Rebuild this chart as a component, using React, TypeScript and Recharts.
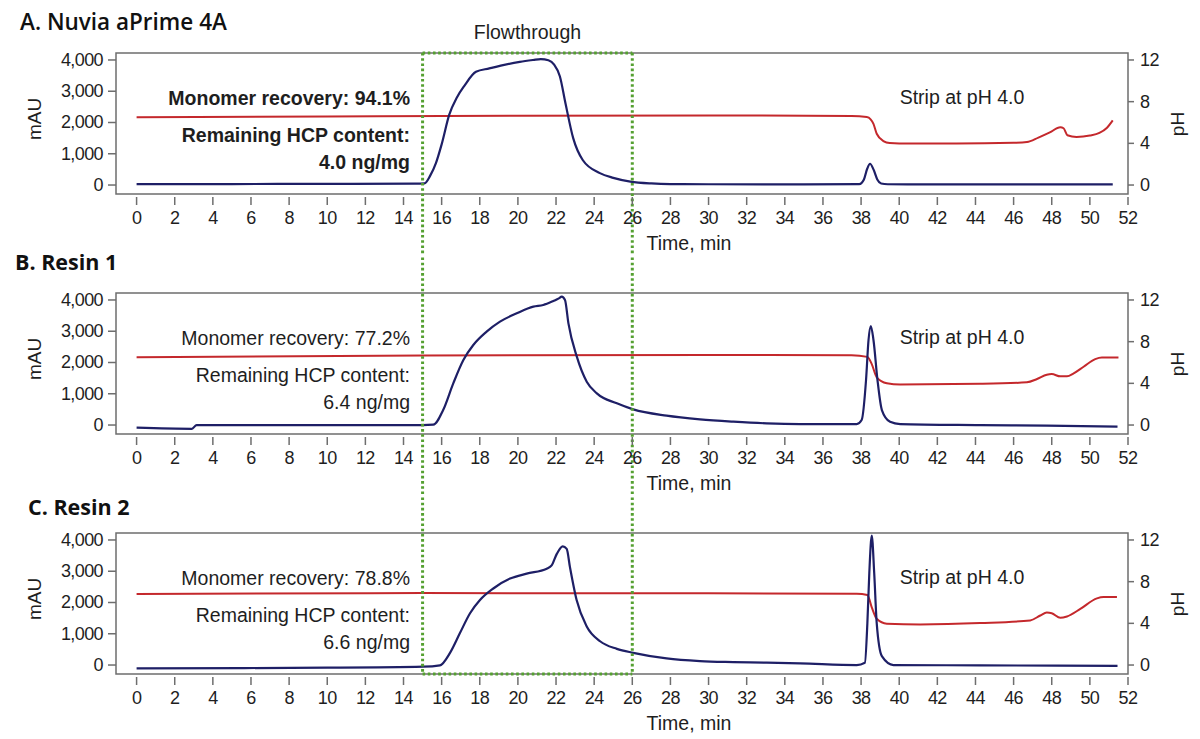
import React from 'react';
import { ComposedChart, Line, XAxis, YAxis, ReferenceArea, ReferenceLine } from 'recharts';

// axes
const timeTicks = [0, 2, 4, 6, 8, 10, 12, 14, 16, 18, 20, 22, 24, 26, 28, 30, 32, 34, 36, 38, 40, 42, 44, 46, 48, 50, 52];
const mauTicks = [0, 1000, 2000, 3000, 4000];
const phTicks = [0, 4, 8, 12];

const flowStart = 15;
const flowEnd = 26;

// A. Nuvia aPrime 4A
const aUvTime = [0, 5, 10, 14.6, 15.1, 15.4, 15.7, 16.0, 16.4, 16.8, 17.2, 17.8, 18.5, 19.1, 20.1, 20.8, 21.2, 21.6, 21.9, 22.2, 22.5, 22.9, 23.4, 24.3, 25.0, 25.9, 27.0, 28, 30, 35, 37.9, 38.15, 38.32, 38.47, 38.65, 38.85, 39.05, 39.4, 42, 46, 51.2];
const aUv = [30, 32, 38, 48, 55, 300, 700, 1300, 2250, 2800, 3180, 3620, 3730, 3820, 3940, 4000, 4030, 3990, 3850, 3480, 2600, 1500, 800, 380, 230, 110, 50, 30, 25, 20, 30, 180, 520, 680, 500, 180, 50, 25, 20, 20, 20];
const aPhTime = [0, 10, 20, 30, 37.5, 38.3, 38.5, 38.65, 38.82, 39.17, 39.5, 40.5, 43, 46, 46.7, 47.3, 47.9, 48.45, 48.62, 48.82, 49.3, 50.0, 50.5, 50.9, 51.2];
const aPh = [6.5, 6.58, 6.65, 6.67, 6.62, 6.52, 6.3, 5.87, 4.92, 4.22, 4.03, 3.98, 3.98, 4.05, 4.12, 4.55, 5.05, 5.55, 5.45, 4.78, 4.62, 4.75, 5.0, 5.5, 6.2];

// B. Resin 1
const bUvTime = [0, 2.9, 3.15, 8, 15.0, 15.56, 16.08, 16.61, 17.14, 17.66, 18.36, 19.06, 19.94, 20.81, 21.33, 21.86, 22.15, 22.3, 22.47, 22.65, 23.09, 23.61, 24.14, 25.19, 26.05, 27.8, 29.55, 31.3, 33.05, 34.8, 37.77, 38.03, 38.26, 38.39, 38.51, 38.65, 38.86, 39.09, 39.52, 40.05, 44.25, 47.74, 51.45];
const bUv = [-85, -120, 0, 0, 0, 10, 480, 1333, 2080, 2560, 2987, 3307, 3573, 3787, 3840, 3968, 4050, 4107, 4000, 3253, 2187, 1387, 1013, 693, 500, 299, 181, 107, 53, 32, 32, 160, 1440, 2720, 3168, 2720, 1440, 480, 107, 32, 0, -20, -53];
const bPhTime = [0, 15, 30, 37.5, 38.33, 38.56, 38.82, 39.35, 40.05, 44.25, 46.7, 47.23, 47.74, 48.0, 48.45, 48.8, 49.15, 49.67, 50.28, 50.63, 51.5];
const bPh = [6.5, 6.67, 6.73, 6.7, 6.54, 5.84, 4.58, 4.01, 3.88, 3.95, 4.1, 4.42, 4.83, 4.89, 4.67, 4.67, 4.96, 5.59, 6.32, 6.47, 6.47];

// C. Resin 2
const cUvTime = [0, 10, 15.04, 15.91, 16.44, 16.96, 17.49, 18.01, 18.71, 19.59, 20.46, 21.51, 21.77, 22.04, 22.35, 22.56, 22.73, 23.08, 23.61, 24.31, 25.19, 26.05, 27.8, 29.55, 31.3, 33.05, 34.8, 37.77, 38.2, 38.33, 38.43, 38.56, 38.69, 38.82, 39.09, 39.7, 44.25, 51.45];
const cUv = [-105, -85, -53, -10, 390, 1023, 1656, 2078, 2448, 2764, 2922, 3080, 3186, 3555, 3798, 3714, 3133, 2078, 1234, 760, 517, 390, 211, 127, 95, 74, 53, 0, 74, 1340, 2922, 4136, 2922, 1340, 285, 0, -10, -30];
const cPhTime = [0, 15, 30, 37.77, 38.33, 38.56, 38.82, 39.35, 41.1, 44.25, 46.87, 47.4, 47.74, 48.0, 48.45, 48.8, 49.5, 50.37, 50.72, 51.42];
const cPh = [6.81, 6.9, 6.88, 6.84, 6.72, 5.53, 4.44, 3.97, 3.9, 4.03, 4.28, 4.75, 5.03, 4.97, 4.53, 4.66, 5.38, 6.4, 6.53, 6.53];

const X_DOMAIN: [number, number] = [-1.08, 52];
const MAU_DOMAIN: [number, number] = [-287, 4223];
const PH_DOMAIN: [number, number] = [(MAU_DOMAIN[0] * 12) / 4000, (MAU_DOMAIN[1] * 12) / 4000];

const W = 1200;
const LEFT_W = 116;
const RIGHT_W = 72;
const PLOT_W = W - LEFT_W - RIGHT_W;
const xPx = (t: number) => LEFT_W + ((t - X_DOMAIN[0]) / (X_DOMAIN[1] - X_DOMAIN[0])) * PLOT_W;

const BLUE = '#1e1f66';
const RED = '#c4282c';
const AXIS = '#6e6e6e';
const GREEN = '#55a031';
const TEXT = '#1e1e1e';
const SANS = '"Liberation Sans", Arial, Helvetica, sans-serif';

const zip = (ts: number[], vs: number[]) => ts.map((t, i) => ({ t, v: vs[i] }));

function TimeTick({ x, y, payload }: any) {
  return (
    <g>
      <line x1={x} x2={x} y1={y + 3} y2={y + 11} stroke={AXIS} strokeWidth={1.5} />
      <text x={x} y={y + 24} textAnchor="middle" dominantBaseline="central" fontFamily={SANS} fontSize={18} letterSpacing={-0.6} fill={TEXT}>
        {payload.value}
      </text>
    </g>
  );
}

function MauTick({ x, y, payload }: any) {
  return (
    <text x={x} y={y} textAnchor="end" dominantBaseline="central" fontFamily={SANS} fontSize={18} letterSpacing={-0.6} fill={TEXT}>
      {Number(payload.value).toLocaleString('en-US')}
    </text>
  );
}

function PhTick({ x, y, payload }: any) {
  return (
    <text x={x} y={y} textAnchor="start" dominantBaseline="central" fontFamily={SANS} fontSize={18} letterSpacing={-0.6} fill={TEXT}>
      {payload.value}
    </text>
  );
}

interface PanelProps {
  title: string;
  titleX: number;
  titleY: number;
  titleWeight: number;
  titleSize: number;
  uv: { t: number; v: number }[];
  ph: { t: number; v: number }[];
  top: number;
  height: number;
  marginTop: number;
  axisHeight: number;
  recovery: string;
  hcp: string;
  bold?: boolean;
  edge: 'top' | 'middle' | 'bottom';
  flowLabel?: boolean;
}

function Panel(p: PanelProps) {
  const plotTop = p.marginTop;
  const plotBottom = p.height - p.axisHeight;
  const plotMid = (plotTop + plotBottom) / 2;
  const BIG = 1e5;
  const yHigh = p.edge === 'top' ? MAU_DOMAIN[1] : BIG;
  const yLow = p.edge === 'bottom' ? MAU_DOMAIN[0] : -BIG;
  const note: React.CSSProperties = {
    position: 'absolute',
    right: W - 410,
    transform: 'translateY(-50%)',
    fontFamily: SANS,
    fontSize: 19.5,
    fontWeight: p.bold ? 700 : 400,
    color: TEXT,
    whiteSpace: 'nowrap',
    lineHeight: 1,
  };
  const plain: React.CSSProperties = {
    position: 'absolute',
    fontFamily: SANS,
    fontSize: 19.5,
    color: TEXT,
    whiteSpace: 'nowrap',
    lineHeight: 1,
  };
  const green = { stroke: GREEN, strokeWidth: 3, strokeDasharray: '2.6 2.6' };

  return (
    <div style={{ position: 'absolute', left: 0, top: p.top, width: W, height: p.height }}>
      <ComposedChart width={W} height={p.height} margin={{ top: p.marginTop, right: 0, bottom: 0, left: 0 }}>
        <XAxis
          type="number"
          dataKey="t"
          domain={X_DOMAIN}
          ticks={timeTicks}
          interval={0}
          allowDataOverflow
          axisLine={false}
          tickLine={false}
          tickSize={0}
          tickMargin={0}
          height={p.axisHeight}
          tick={<TimeTick />}
        />
        <YAxis
          yAxisId="mau"
          domain={MAU_DOMAIN}
          ticks={mauTicks}
          interval={0}
          allowDataOverflow
          width={LEFT_W}
          axisLine={false}
          tickLine={{ stroke: AXIS, strokeWidth: 1.5 }}
          tickSize={8}
          tickMargin={5}
          tick={<MauTick />}
        />
        <YAxis
          yAxisId="ph"
          orientation="right"
          domain={PH_DOMAIN}
          ticks={phTicks}
          interval={0}
          allowDataOverflow
          width={RIGHT_W}
          axisLine={false}
          tickLine={{ stroke: AXIS, strokeWidth: 1.5 }}
          tickSize={6}
          tickMargin={6}
          tick={<PhTick />}
        />
        <ReferenceArea
          yAxisId="mau"
          x1={X_DOMAIN[0]}
          x2={X_DOMAIN[1]}
          y1={MAU_DOMAIN[0]}
          y2={MAU_DOMAIN[1]}
          fill="none"
          fillOpacity={0}
          stroke={AXIS}
          strokeWidth={1.5}
          ifOverflow="visible"
        />
        <Line yAxisId="ph" data={p.ph} dataKey="v" type="monotone" stroke={RED} strokeWidth={2} dot={false} isAnimationActive={false} />
        <Line yAxisId="mau" data={p.uv} dataKey="v" type="monotone" stroke={BLUE} strokeWidth={2.2} dot={false} isAnimationActive={false} />
        <ReferenceLine yAxisId="mau" ifOverflow="visible" segment={[{ x: flowStart, y: yHigh }, { x: flowStart, y: yLow }]} {...green} />
        <ReferenceLine yAxisId="mau" ifOverflow="visible" segment={[{ x: flowEnd, y: yHigh }, { x: flowEnd, y: yLow }]} {...green} />
        {p.edge === 'top' && (
          <ReferenceLine yAxisId="mau" ifOverflow="visible" segment={[{ x: flowStart, y: MAU_DOMAIN[1] }, { x: flowEnd, y: MAU_DOMAIN[1] }]} {...green} />
        )}
        {p.edge === 'bottom' && (
          <ReferenceLine yAxisId="mau" ifOverflow="visible" segment={[{ x: flowStart, y: MAU_DOMAIN[0] }, { x: flowEnd, y: MAU_DOMAIN[0] }]} {...green} />
        )}
      </ComposedChart>

      <div
        style={{
          position: 'absolute',
          left: p.titleX,
          top: p.titleY,
          transform: 'translateY(-50%)',
          fontFamily: '"Open Sans", "Noto Sans", sans-serif',
          fontSize: p.titleSize,
          fontWeight: p.titleWeight,
          color: '#111',
          whiteSpace: 'nowrap',
          lineHeight: 1,
        }}
      >
        {p.title}
      </div>
      {p.flowLabel && (
        <div style={{ ...plain, left: xPx((flowStart + flowEnd) / 2), top: plotTop - 20, transform: 'translate(-50%, -50%)' }}>Flowthrough</div>
      )}
      <div style={{ ...note, top: plotTop + 46 }}>{p.recovery}</div>
      <div style={{ ...note, top: plotTop + 83 }}>Remaining HCP content:</div>
      <div style={{ ...note, top: plotTop + 110 }}>{p.hcp}</div>
      <div style={{ ...plain, left: 962, top: plotTop + 45, transform: 'translate(-50%, -50%)' }}>Strip at pH 4.0</div>
      <div style={{ ...plain, fontSize: 19, left: 34, top: plotMid - 5, transform: 'translate(-50%, -50%) rotate(-90deg)' }}>mAU</div>
      <div style={{ ...plain, fontSize: 19, left: 1177, top: plotMid, transform: 'translate(-50%, -50%) rotate(-90deg)' }}>pH</div>
      <div style={{ ...plain, left: 689, top: plotBottom + 50, transform: 'translate(-50%, -50%)' }}>Time, min</div>
    </div>
  );
}

export default function App() {
  return (
    <div style={{ position: 'absolute', left: 0, top: 0, width: 1200, height: 739, background: '#fff', overflow: 'hidden' }}>
      <Panel
        title="A. Nuvia aPrime 4A"
        titleX={20}
        titleY={22}
        titleWeight={600}
        titleSize={22.5}
        uv={zip(aUvTime, aUv)}
        ph={zip(aPhTime, aPh)}
        top={0}
        height={255}
        marginTop={53}
        axisHeight={61}
        recovery="Monomer recovery: 94.1%"
        hcp="4.0 ng/mg"
        bold
        edge="top"
        flowLabel
      />
      <Panel
        title="B. Resin 1"
        titleX={15}
        titleY={7}
        titleWeight={700}
        titleSize={21.5}
        uv={zip(bUvTime, bUv)}
        ph={zip(bPhTime, bPh)}
        top={255}
        height={240}
        marginTop={38}
        axisHeight={61}
        recovery="Monomer recovery: 77.2%"
        hcp="6.4 ng/mg"
        edge="middle"
      />
      <Panel
        title="C. Resin 2"
        titleX={28}
        titleY={12}
        titleWeight={700}
        titleSize={21.5}
        uv={zip(cUvTime, cUv)}
        ph={zip(cPhTime, cPh)}
        top={495}
        height={244}
        marginTop={38}
        axisHeight={65}
        recovery="Monomer recovery: 78.8%"
        hcp="6.6 ng/mg"
        edge="bottom"
      />
    </div>
  );
}
